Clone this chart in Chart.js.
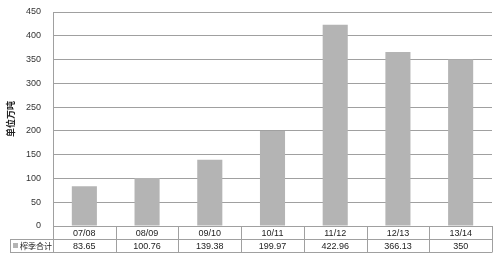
<!DOCTYPE html>
<html>
<head>
<meta charset="utf-8">
<script src="https://cdn.jsdelivr.net/npm/chart.js@4"></script>
<style>
  html, body { margin: 0; padding: 0; background: #fff; }
  #wrap { width: 500px; height: 257px; }
</style>
</head>
<body>
<div id="wrap"><canvas id="myChart" width="500" height="257"></canvas></div>
<script>
const seasons = ['07/08', '08/09', '09/10', '10/11', '11/12', '12/13', '13/14'];
const totals = [83.65, 100.76, 139.38, 199.97, 422.96, 366.13, 350];
const totalLabels = ['83.65', '100.76', '139.38', '199.97', '422.96', '366.13', '350'];
const seriesName = '榨季合计';
const axisTitle = '单位万吨';

const lineColor = '#a0a0a0';
const barColor = '#b4b4b4';
const fontFamily = '"Liberation Sans", "Noto Sans CJK SC", sans-serif';

// draws the data table under the x axis
const tablePlugin = {
    id: 'dataTable',
    afterDraw(chart) {
        const ctx = chart.ctx;
        const x = chart.scales.x;
        const top = Math.round(chart.chartArea.bottom);
        const rowH = 13;
        const step = x.getPixelForValue(1) - x.getPixelForValue(0);
        const left = x.getPixelForValue(0) - step / 2;
        const right = x.getPixelForValue(seasons.length - 1) + step / 2;
        const legendLeft = 10;

        ctx.save();
        ctx.strokeStyle = lineColor;
        ctx.lineWidth = 1;
        ctx.beginPath();
        ctx.moveTo(legendLeft, top + rowH + 0.5);
        ctx.lineTo(right, top + rowH + 0.5);
        ctx.moveTo(legendLeft, top + 2 * rowH + 0.5);
        ctx.lineTo(right, top + 2 * rowH + 0.5);
        for (let i = 0; i <= seasons.length; i++) {
            const px = Math.round(left + i * step) + 0.5;
            ctx.moveTo(px, top);
            ctx.lineTo(px, top + 2 * rowH + 0.5);
        }
        ctx.moveTo(legendLeft + 0.5, top + rowH);
        ctx.lineTo(legendLeft + 0.5, top + 2 * rowH + 0.5);
        ctx.stroke();

        ctx.fillStyle = '#222';
        ctx.font = '9px ' + fontFamily;
        ctx.textAlign = 'center';
        ctx.textBaseline = 'middle';
        seasons.forEach((s, i) => {
            const cx = x.getPixelForValue(i);
            ctx.fillText(s, cx, top + rowH / 2 + 1);
            ctx.fillText(totalLabels[i], cx, top + rowH * 1.5 + 1);
        });

        // legend cell
        ctx.fillStyle = barColor;
        ctx.fillRect(legendLeft + 3, top + rowH + 4, 5, 5);
        ctx.fillStyle = '#222';
        ctx.font = '8px ' + fontFamily;
        ctx.textAlign = 'left';
        ctx.fillText(seriesName, legendLeft + 10, top + rowH * 1.5 + 1);
        ctx.restore();
    }
};

const ctx = document.getElementById('myChart').getContext('2d');
const myChart = new Chart(ctx, {
    type: 'bar',
    data: {
        labels: seasons,
        datasets: [{
            label: seriesName,
            data: totals,
            backgroundColor: barColor,
            borderWidth: 0,
            barPercentage: 0.4,
            categoryPercentage: 1
        }]
    },
    options: {
        responsive: false,
        animation: false,
        layout: { padding: { left: 0, right: 8, top: 12, bottom: 31 } },
        plugins: {
            legend: { display: false },
            tooltip: { enabled: false }
        },
        scales: {
            x: {
                ticks: { display: false },
                grid: { display: false },
                border: { display: true, color: lineColor },
                afterFit(scale) { scale.height = 0; }
            },
            y: {
                min: 0,
                max: 450,
                ticks: {
                    stepSize: 50,
                    color: '#333',
                    font: { family: fontFamily, size: 9 },
                    padding: 12
                },
                grid: { color: lineColor, drawTicks: false },
                border: { display: true, color: lineColor },
                title: {
                    display: true,
                    text: axisTitle,
                    color: '#222',
                    font: { family: fontFamily, size: 9, weight: 'bold' },
                    padding: { top: 6, bottom: 0 }
                },
                afterFit(scale) {
                    scale.width = 53;
                    scale.paddingTop = 0;
                    scale.paddingBottom = 0;
                }
            }
        }
    },
    plugins: [tablePlugin]
});
</script>
</body>
</html>
